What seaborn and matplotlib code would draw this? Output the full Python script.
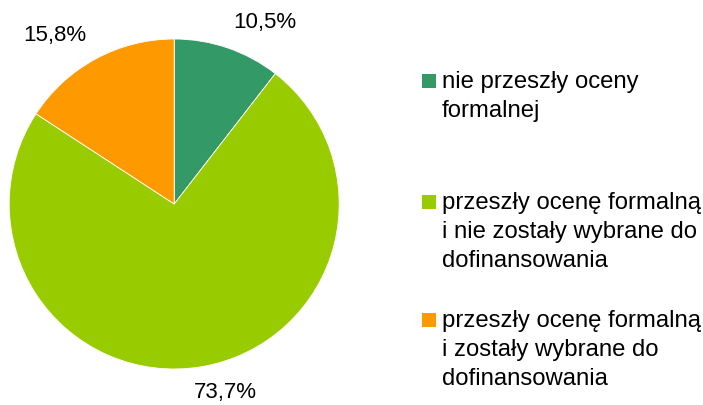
import matplotlib
matplotlib.use("Agg")
import matplotlib.pyplot as plt
import seaborn as sns
from matplotlib.patches import Rectangle

# data
categories = [
    "nie przeszły oceny\nformalnej",
    "przeszły ocenę formalną\ni nie zostały wybrane do\ndofinansowania",
    "przeszły ocenę formalną\ni zostały wybrane do\ndofinansowania",
]
shares = [10.5, 73.7, 15.8]
pct_labels = ["10,5%", "73,7%", "15,8%"]
colors = ["#339966", "#99CC00", "#FF9900"]

sns.set_theme(style="white")
plt.rcParams["font.family"] = ["Liberation Sans", "DejaVu Sans"]

fig = plt.figure(figsize=(7.03, 4.05), dpi=100)
W, H = 703, 405

# pie axes: centre (174, 204), radius 165 px
ax = fig.add_axes([9.2 / W, 36 / H, 330 / W, 330 / H])
ax.pie(shares, colors=colors, startangle=90, counterclock=False, radius=1,
       wedgeprops=dict(edgecolor="white", linewidth=0.6))
ax.set_xlim(-1, 1)
ax.set_ylim(-1, 1)
ax.set_aspect("equal")
ax.axis("off")

# label positions (in pie radius units, relative to centre)
label_pos = [(0.552, 1.103), (0.309, -1.145), (-0.721, 1.024)]
for txt, (lx, ly) in zip(pct_labels, label_pos):
    ax.text(lx, ly, txt, ha="center", va="center", fontsize=16,
            color="black", clip_on=False)

# legend drawn as boxes + text (y = first line baseline, px from top)
first_baselines = [88, 209, 327]
for lab, col, yb in zip(categories, colors, first_baselines):
    fig.add_artist(Rectangle((422 / W, 1 - yb / H), 14.5 / W, 14.5 / H,
                             transform=fig.transFigure, facecolor=col,
                             edgecolor="none"))
    fig.text(442 / W, 1 - (yb - 17.3) / H, lab, ha="left", va="top",
             fontsize=17.2, linespacing=1.42, color="black")

plt.savefig("out.png", dpi=100)
